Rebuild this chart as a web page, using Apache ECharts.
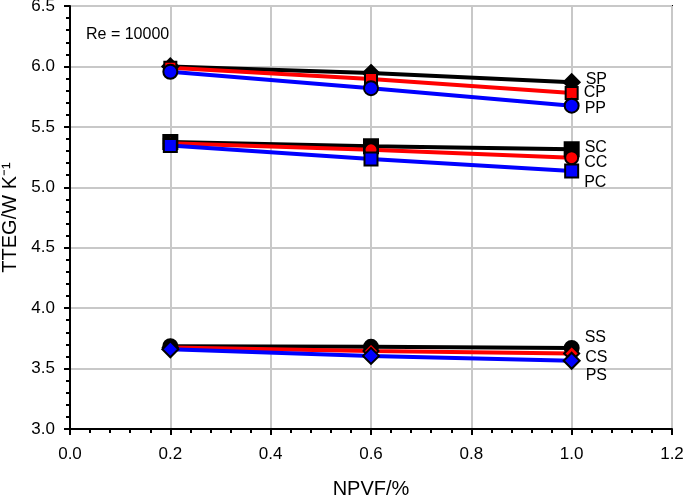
<!DOCTYPE html>
<html><head><meta charset="utf-8">
<script src="https://cdn.jsdelivr.net/npm/echarts@6/dist/echarts.min.js"></script>
<style>html,body{margin:0;padding:0;background:#fff}#c{width:685px;height:498px}</style>
</head><body><div id="c"></div>
<script>
const npvf = [0.2, 0.6, 1.0];
const SP = [6.00, 5.945, 5.87];
const CP = [5.99, 5.895, 5.78];
const PP = [5.955, 5.82, 5.675];
const SC = [5.375, 5.34, 5.315];
const CC = [5.365, 5.31, 5.245];
const PC = [5.345, 5.235, 5.135];
const SS = [3.685, 3.68, 3.67];
const CS = [3.675, 3.645, 3.625];
const PS = [3.66, 3.605, 3.565];
const xTicks = ['0.0','0.2','0.4','0.6','0.8','1.0','1.2'];
const yTicks = ['3.0','3.5','4.0','4.5','5.0','5.5','6.0','6.5'];

const font = 'Liberation Sans, Arial, sans-serif';
function mk(name, vals, color, symbol, size, labOff) {
  return {
    name, type: 'line', data: vals.map((v, i) => [npvf[i], v]),
    lineStyle: { color, width: 4 }, itemStyle: { color, borderColor: '#000', borderWidth: 2 },
    symbol, symbolSize: size, z: 3,
    label: {
      show: true, formatter: p => p.dataIndex === vals.length - 1 ? name : '',
      position: 'right', distance: 5, offset: labOff, color: '#000', fontSize: 16, fontFamily: font
    },
    animation: false
  };
}
const axisCommon = {
  axisLine: { show: true, lineStyle: { color: '#000', width: 2 } },
  axisTick: { show: true, inside: false, length: 6, lineStyle: { color: '#000', width: 2 } },
  minorTick: { show: true, splitNumber: 5, length: 4, lineStyle: { color: '#000', width: 2 } },
  splitLine: { show: true, lineStyle: { color: '#c8c8c8', width: 2 } }
};
const chart = echarts.init(document.getElementById('c'));
chart.setOption({
  animation: false,
  grid: { left: 70, right: 13, top: 6, bottom: 69, show: true, borderColor: '#000', borderWidth: 2,
          containLabel: false, outerBoundsMode: 'none' },
  xAxis: Object.assign({
    type: 'value', min: 0, max: 1.2, interval: 0.2,
    name: 'NPVF/%', nameLocation: 'middle', nameGap: 50,
    nameTextStyle: { fontSize: 20, color: '#000', fontFamily: font, verticalAlign: 'top' },
    axisLabel: { fontSize: 17, color: '#000', fontFamily: font, margin: 17, formatter: v => xTicks[Math.round(v / 0.2)] }
  }, axisCommon),
  yAxis: Object.assign({
    type: 'value', min: 3, max: 6.5, interval: 0.5,
    name: 'TTEG/W K\u207B\u00B9', nameLocation: 'middle', nameGap: 41,
    nameTextStyle: { fontSize: 20, color: '#000', fontFamily: font },
    axisLabel: { fontSize: 17, color: '#000', fontFamily: font, margin: 15, formatter: v => yTicks[Math.round((v - 3) / 0.5)] }
  }, axisCommon),
  graphic: [{ type: 'text', left: 86, top: 27, style: { text: 'Re = 10000', fontSize: 16, fill: '#000', fontFamily: font } }],
  series: [
    mk('SP', SP, '#000000', 'diamond', 16, [0, -3]),
    mk('CP', CP, '#ff0000', 'rect', 12, [0, 0]),
    mk('PP', PP, '#0000ff', 'circle', 14, [0, 3]),
    mk('SC', SC, '#000000', 'rect', 14, [0, -2]),
    mk('CC', CC, '#ff0000', 'circle', 13, [0, 5]),
    mk('PC', PC, '#0000ff', 'rect', 13, [0, 12]),
    mk('SS', SS, '#000000', 'circle', 14, [0, -10]),
    mk('CS', CS, '#ff0000', 'diamond', 15, [0, 4]),
    mk('PS', PS, '#0000ff', 'diamond', 16, [0, 15])
  ]
});
</script></body></html>
